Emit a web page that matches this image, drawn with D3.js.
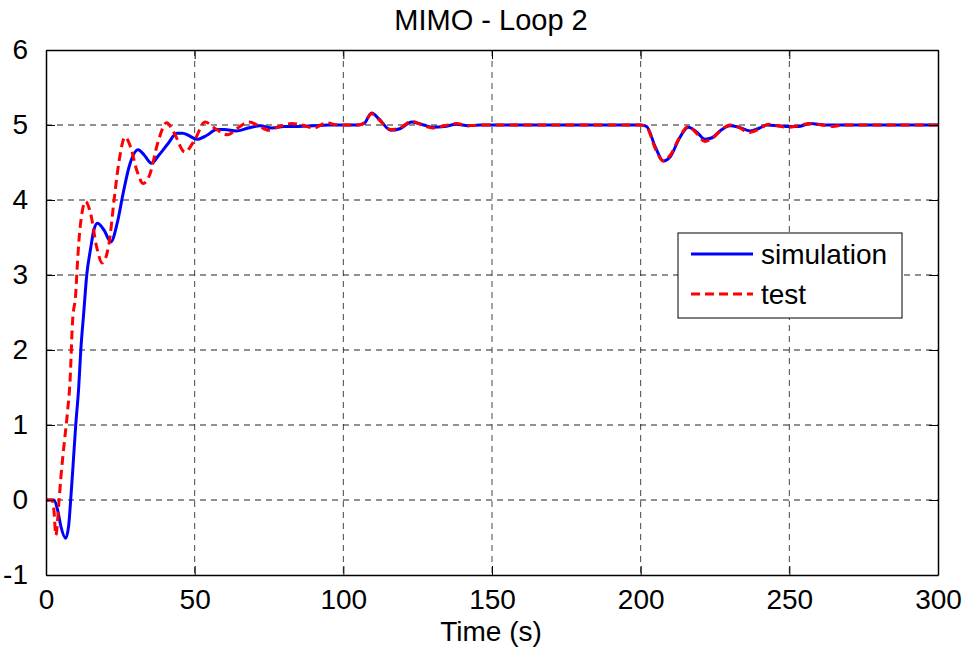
<!DOCTYPE html>
<html>
<head>
<meta charset="utf-8">
<script src="https://cdn.jsdelivr.net/npm/d3@7"></script>
<style>
  body { margin: 0; background: #fff; }
  text { font-family: "Liberation Sans", Arial, sans-serif; fill: #000; }
</style>
</head>
<body>
<div id="chart"></div>
<script>
const xTicks = [0, 50, 100, 150, 200, 250, 300];
const yTicks = [-1, 0, 1, 2, 3, 4, 5, 6];
const seriesNames = ["simulation", "test"];

const simTime = [0, 2.7, 4, 5, 6.6, 7.6, 8.3, 9, 10, 11, 11.7, 12.7, 13.7, 15, 16.1, 17.3, 19.5, 21.8, 24, 26, 28, 31, 33, 35.5, 38, 41, 44, 46, 48, 50.7, 54, 57.4, 60, 64, 68, 72, 76, 80, 85, 90, 95, 100, 105, 107, 109.5, 112, 116, 119, 123, 127, 130, 134, 138, 142, 146, 150, 175, 200, 202, 205, 207.6, 210, 213, 216, 219, 221.6, 224, 227, 230, 233, 236.8, 240, 242.4, 246, 249, 253, 257, 262, 267, 285, 300];
const simValue = [0, 0, -0.15, -0.35, -0.51, -0.35, 0, 0.4, 1.0, 1.5, 2.0, 2.5, 3.0, 3.35, 3.6, 3.69, 3.6, 3.44, 3.7, 4.1, 4.45, 4.67, 4.6, 4.49, 4.6, 4.75, 4.89, 4.89, 4.86, 4.81, 4.86, 4.94, 4.94, 4.92, 4.96, 4.99, 4.96, 4.98, 4.98, 4.99, 5.0, 5.0, 5.0, 5.02, 5.16, 5.08, 4.93, 4.95, 5.04, 5.0, 4.97, 4.98, 5.01, 4.99, 5.0, 5.0, 5.0, 5.0, 4.98, 4.7, 4.52, 4.58, 4.82, 4.97, 4.9, 4.81, 4.83, 4.93, 4.99, 4.97, 4.92, 4.96, 5.0, 4.99, 4.98, 4.98, 5.02, 5.0, 5.0, 5.0, 5.0];

const testTime = [0, 2, 2.7, 3.3, 4.4, 5, 6, 7.2, 8.1, 8.9, 10, 10.5, 11.1, 12, 13.3, 15, 17, 18.9, 21.2, 22.9, 24.5, 26.6, 28.5, 30.5, 32.7, 35, 37.5, 40.6, 43, 46.7, 50, 53.5, 57, 61, 64.5, 68.3, 71.5, 74.8, 78.5, 82.6, 86, 90, 94.4, 98, 105, 107, 109.5, 112, 116, 119, 123, 127, 130, 134, 138, 142, 146, 150, 175, 200, 202, 205, 207.6, 210, 213, 216, 219, 221.5, 224, 227, 230, 233, 236.5, 240, 243, 246, 249.5, 253, 257, 261, 264.7, 268, 285, 300];
const testValue = [0, 0, -0.15, -0.47, 0, 0.3, 0.71, 1.16, 1.6, 2.36, 2.76, 3.11, 3.47, 3.8, 3.98, 3.82, 3.38, 3.16, 3.42, 4.0, 4.5, 4.84, 4.7, 4.4, 4.22, 4.35, 4.75, 5.03, 4.9, 4.64, 4.8, 5.04, 4.95, 4.87, 4.96, 5.04, 4.99, 4.93, 4.98, 5.02, 5.0, 4.96, 5.03, 5.0, 5.0, 5.03, 5.15, 5.07, 4.94, 4.96, 5.05, 4.99, 4.96, 4.99, 5.02, 4.99, 5.0, 5.0, 5.0, 5.0, 4.97, 4.68, 4.52, 4.6, 4.83, 4.98, 4.88, 4.78, 4.82, 4.93, 5.0, 4.97, 4.9, 4.95, 5.01, 4.99, 4.97, 4.99, 5.02, 5.0, 4.98, 5.0, 5.0, 5.0];

const W = 969, H = 651;
const margin = { top: 50, right: 31, bottom: 76, left: 46 };
const width = W - margin.left - margin.right;
const height = H - margin.top - margin.bottom;

const svg = d3.select("#chart").append("svg")
    .attr("width", W)
    .attr("height", H);

const g = svg.append("g")
    .attr("transform", `translate(${margin.left},${margin.top})`);

const x = d3.scaleLinear().domain([0, 300]).range([0, width]);
const y = d3.scaleLinear().domain([-1, 6]).range([height, 0]);

// grid
g.append("g").selectAll("line")
    .data(xTicks.slice(1, -1))
    .join("line")
    .attr("x1", d => x(d)).attr("x2", d => x(d))
    .attr("y1", 0).attr("y2", height)
    .attr("stroke", "#444").attr("stroke-width", 1)
    .attr("stroke-dasharray", "6,5");

g.append("g").selectAll("line")
    .data(yTicks.slice(1, -1))
    .join("line")
    .attr("y1", d => y(d)).attr("y2", d => y(d))
    .attr("x1", 0).attr("x2", width)
    .attr("stroke", "#222").attr("stroke-width", 1)
    .attr("stroke-dasharray", "6,5");

// lines
svg.append("defs").append("clipPath").attr("id", "clip")
    .append("rect").attr("width", width).attr("height", height);

const line = d3.line()
    .x(d => x(d[0]))
    .y(d => y(d[1]))
    .curve(d3.curveMonotoneX);

const plot = g.append("g").attr("clip-path", "url(#clip)");

plot.append("path")
    .datum(d3.zip(simTime, simValue))
    .attr("d", line)
    .attr("fill", "none")
    .attr("stroke", "#0000ff")
    .attr("stroke-width", 3);

plot.append("path")
    .datum(d3.zip(testTime, testValue))
    .attr("d", line)
    .attr("fill", "none")
    .attr("stroke", "#ff0000")
    .attr("stroke-width", 3)
    .attr("stroke-dasharray", "9,5");

// axes (MATLAB-style, ticks inward on all sides)
const tickLen = 9;
const plain = d => String(d);
const xAxis = g.append("g").attr("transform", `translate(0,${height})`)
    .call(d3.axisBottom(x).tickValues(xTicks).tickFormat(plain)
        .tickSizeInner(-tickLen).tickSizeOuter(0).tickPadding(14));
const xTop = g.append("g")
    .call(d3.axisTop(x).tickValues(xTicks).tickSizeInner(-tickLen).tickSizeOuter(0).tickFormat(""));
const yAxis = g.append("g")
    .call(d3.axisLeft(y).tickValues(yTicks).tickFormat(plain)
        .tickSizeInner(-tickLen).tickSizeOuter(0).tickPadding(18));
const yRight = g.append("g").attr("transform", `translate(${width},0)`)
    .call(d3.axisRight(y).tickValues(yTicks).tickSizeInner(-tickLen).tickSizeOuter(0).tickFormat(""));

[xAxis, xTop, yAxis, yRight].forEach(a => {
    a.select(".domain").attr("stroke", "#000").attr("stroke-width", 1.5);
    a.selectAll(".tick line").attr("stroke", "#000").attr("stroke-width", 1);
    a.selectAll("text")
        .style("font-family", '"Liberation Sans", Arial, sans-serif')
        .style("font-size", "28px")
        .attr("fill", "#000");
});

// title and axis label
svg.append("text")
    .attr("x", margin.left + width / 2 - 1)
    .attr("y", 30)
    .attr("text-anchor", "middle")
    .style("font-size", "29px")
    .text("MIMO - Loop 2");

svg.append("text")
    .attr("x", margin.left + width / 2 - 1)
    .attr("y", 641)
    .attr("text-anchor", "middle")
    .style("font-size", "28px")
    .text("Time (s)");

// legend
const legend = svg.append("g").attr("transform", "translate(678,233)");
legend.append("rect")
    .attr("width", 224).attr("height", 85)
    .attr("fill", "#fff").attr("stroke", "#000").attr("stroke-width", 1);

const legendStyles = [
    { color: "#0000ff", dash: null },
    { color: "#ff0000", dash: "9,5" }
];
seriesNames.forEach((name, i) => {
    const yy = 21 + i * 40;
    legend.append("line")
        .attr("x1", 13).attr("x2", 75)
        .attr("y1", yy).attr("y2", yy)
        .attr("stroke", legendStyles[i].color)
        .attr("stroke-width", 3)
        .attr("stroke-dasharray", legendStyles[i].dash);
    legend.append("text")
        .attr("x", 83).attr("y", yy + 10)
        .style("font-size", "28px")
        .text(name);
});
</script>
</body>
</html>
